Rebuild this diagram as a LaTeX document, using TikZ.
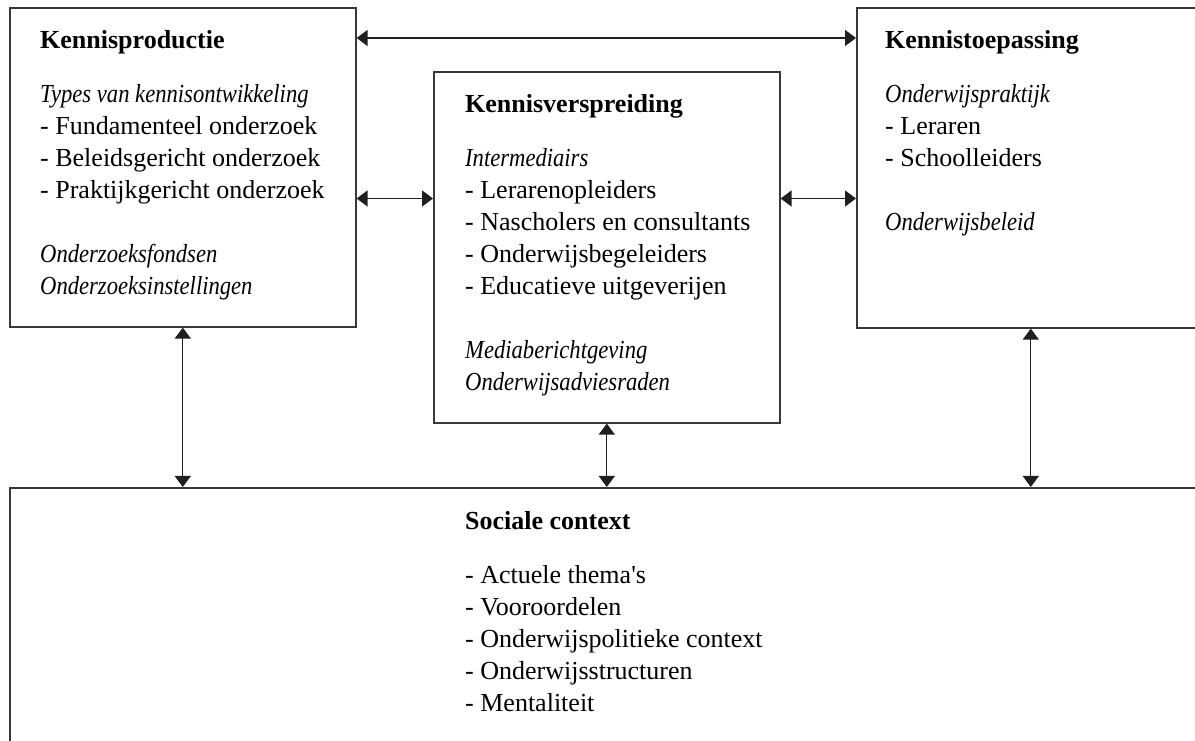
\documentclass[tikz,border=0pt]{standalone}
\usepackage{fontspec}
\setmainfont{Liberation Serif}
\usetikzlibrary{arrows.meta}
\newcommand{\itl}[1]{\scalebox{0.87}[1]{\itshape #1}}
\begin{document}
\begin{tikzpicture}[x=1pt,y=1pt,
  box/.style={draw=black!78,line width=1.6pt,rectangle,inner sep=0pt,anchor=north west},
  ttl/.style={anchor=base west,inner sep=0pt,font=\fontsize{26}{32}\selectfont\bfseries},
  body/.style={anchor=base west,inner sep=0pt,font=\fontsize{26}{32}\selectfont},
  biarrow/.style={line width=1.35pt,draw=black!88,{Triangle[length=11pt,width=16pt]}-{Triangle[length=11pt,width=16pt]}}]
\useasboundingbox (0,0) rectangle (1195,740);
\clip (0,0) rectangle (1195,740);
\fill[white] (0,0) rectangle (1195,740);
% boxes
\node[box,minimum width=346pt,minimum height=319pt] (kp) at (9,733) {};
\node[box,minimum width=346pt,minimum height=351pt] (kv) at (433,669) {};
\node[box,minimum width=348pt,minimum height=320pt] (kt) at (856,733) {};
\node[box,minimum width=1200pt,minimum height=300pt] (sc) at (9,253) {};
% texts
\node[ttl] (kpt) at (40,691) {Kennisproductie};
\node[body] (kpb) at (40,637) {\renewcommand\arraystretch{1}\begin{tabular}[t]{@{}l@{}}
\itl{Types van kennisontwikkeling}\\
- Fundamenteel onderzoek\\
- Beleidsgericht onderzoek\\
- Praktijkgericht onderzoek\\
\\
\itl{Onderzoeksfondsen}\\
\itl{Onderzoeksinstellingen}
\end{tabular}};
\node[ttl] (kvt) at (465,627) {Kennisverspreiding};
\node[body] (kvb) at (465,573) {\renewcommand\arraystretch{1}\begin{tabular}[t]{@{}l@{}}
\itl{Intermediairs}\\
- Lerarenopleiders\\
- Nascholers en consultants\\
- Onderwijsbegeleiders\\
- Educatieve uitgeverijen\\
\\
\itl{Mediaberichtgeving}\\
\itl{Onderwijsadviesraden}
\end{tabular}};
\node[ttl] (ktt) at (885,691) {Kennistoepassing};
\node[body] (ktb) at (885,637) {\renewcommand\arraystretch{1}\begin{tabular}[t]{@{}l@{}}
\itl{Onderwijspraktijk}\\
- Leraren\\
- Schoolleiders\\
\\
\itl{Onderwijsbeleid}
\end{tabular}};
\node[ttl] (sct) at (465,211) {Sociale context};
\node[body] (scb) at (465,157) {\renewcommand\arraystretch{1}\begin{tabular}[t]{@{}l@{}}
- Actuele thema\textquotesingle s\\
- Vooroordelen\\
- Onderwijspolitieke context\\
- Onderwijsstructuren\\
- Mentaliteit
\end{tabular}};
% connectors
\coordinate (topy) at (0,702);
\coordinate (midy) at (0,541.5);
\draw[biarrow] (kp.east |- topy) -- (kt.west |- topy);
\draw[biarrow] (kp.east |- midy) -- (kv.west |- midy);
\draw[biarrow] (kv.east |- midy) -- (kt.west |- midy);
\draw[biarrow] (kp.south) -- (kp.south |- sc.north);
\draw[biarrow] (kv.south) -- (kv.south |- sc.north);
\draw[biarrow] (kt.south) -- (kt.south |- sc.north);
\end{tikzpicture}
\end{document}
